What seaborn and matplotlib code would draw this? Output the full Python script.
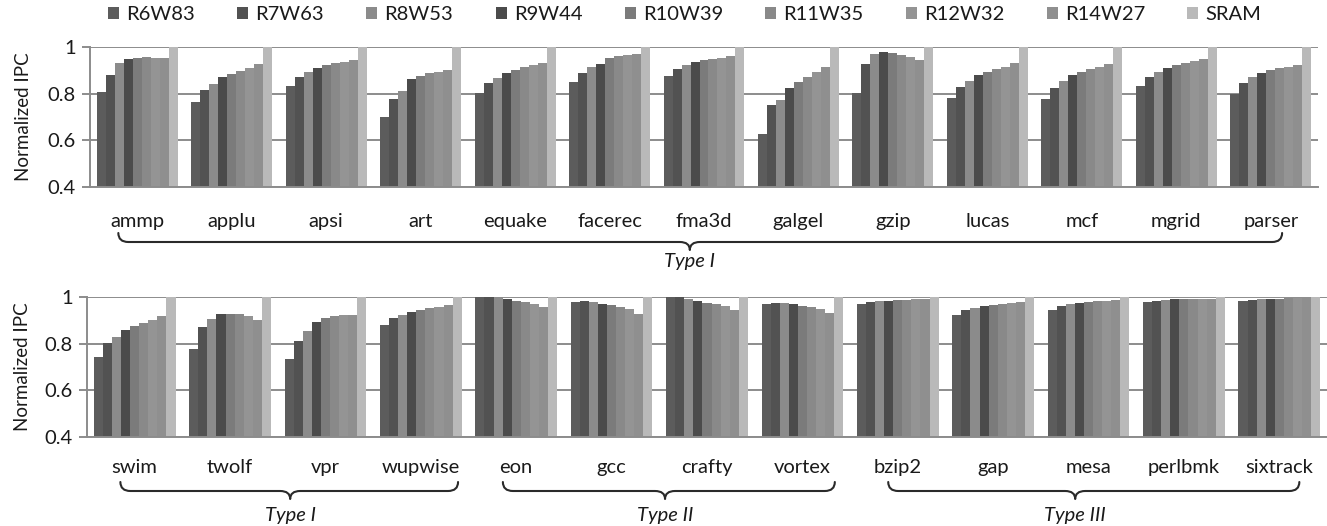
import numpy as np
import pandas as pd
import matplotlib
matplotlib.use("Agg")
import matplotlib.pyplot as plt
from matplotlib.path import Path
from matplotlib.patches import PathPatch, Patch
import seaborn as sns

# ---------------------------------------------------------------- data
TOP_BENCH = ["ammp", "applu", "apsi", "art", "equake", "facerec", "fma3d",
             "galgel", "gzip", "lucas", "mcf", "mgrid", "parser"]
BOTTOM_BENCH = ["swim", "twolf", "vpr", "wupwise", "eon", "gcc", "crafty",
                "vortex", "bzip2", "gap", "mesa", "perlbmk", "sixtrack"]

CONFIGS = ["R6W83", "R7W63", "R8W53", "R9W44", "R10W39",
           "R11W35", "R12W32", "R14W27", "SRAM"]

# normalized IPC, one list per configuration, benchmarks in TOP_BENCH order
top_r6w83 = [0.806, 0.765, 0.833, 0.698, 0.803, 0.848, 0.875, 0.628, 0.801, 0.780, 0.776, 0.831, 0.800]
top_r7w63 = [0.881, 0.815, 0.871, 0.777, 0.845, 0.889, 0.905, 0.750, 0.929, 0.828, 0.826, 0.871, 0.845]
top_r8w53 = [0.932, 0.843, 0.891, 0.813, 0.866, 0.915, 0.921, 0.771, 0.970, 0.855, 0.854, 0.891, 0.871]
top_r9w44 = [0.948, 0.870, 0.909, 0.861, 0.890, 0.929, 0.935, 0.824, 0.980, 0.879, 0.879, 0.909, 0.890]
top_r10w39 = [0.952, 0.884, 0.922, 0.877, 0.903, 0.952, 0.943, 0.851, 0.974, 0.894, 0.894, 0.922, 0.903]
top_r11w35 = [0.956, 0.897, 0.930, 0.890, 0.913, 0.962, 0.949, 0.872, 0.967, 0.906, 0.905, 0.930, 0.910]
top_r12w32 = [0.955, 0.909, 0.936, 0.891, 0.921, 0.966, 0.955, 0.894, 0.959, 0.916, 0.914, 0.939, 0.914]
top_r14w27 = [0.953, 0.926, 0.946, 0.901, 0.931, 0.969, 0.963, 0.916, 0.943, 0.931, 0.929, 0.950, 0.921]
top_sram = [1.0] * 13

# benchmarks in BOTTOM_BENCH order
bot_r6w83 = [0.744, 0.779, 0.734, 0.881, 1.000, 0.980, 1.000, 0.971, 0.970, 0.924, 0.946, 0.979, 0.983]
bot_r7w63 = [0.801, 0.871, 0.811, 0.910, 1.000, 0.983, 1.000, 0.976, 0.977, 0.943, 0.960, 0.984, 0.986]
bot_r8w53 = [0.830, 0.906, 0.854, 0.924, 0.999, 0.977, 0.991, 0.973, 0.981, 0.954, 0.969, 0.989, 0.990]
bot_r9w44 = [0.859, 0.926, 0.893, 0.937, 0.990, 0.971, 0.983, 0.969, 0.984, 0.963, 0.974, 0.990, 0.991]
bot_r10w39 = [0.876, 0.926, 0.910, 0.944, 0.984, 0.964, 0.976, 0.963, 0.987, 0.967, 0.979, 0.991, 0.993]
bot_r11w35 = [0.890, 0.926, 0.920, 0.953, 0.977, 0.959, 0.969, 0.956, 0.989, 0.970, 0.981, 0.991, 0.994]
bot_r12w32 = [0.901, 0.920, 0.924, 0.959, 0.969, 0.947, 0.960, 0.947, 0.990, 0.974, 0.983, 0.991, 0.996]
bot_r14w27 = [0.920, 0.903, 0.924, 0.964, 0.957, 0.929, 0.943, 0.930, 0.990, 0.979, 0.986, 0.991, 0.996]
bot_sram = [1.0] * 13

COLORS = ["#5c5c5c", "#525252", "#8b8b8b", "#4b4b4b", "#7b7b7b",
          "#898989", "#949494", "#8f8f8f", "#b9b9b9"]


def long_frame(bench, series):
    rows = []
    for cfg, vals in zip(CONFIGS, series):
        for b, v in zip(bench, vals):
            rows.append({"bench": b, "config": cfg, "ipc": v})
    return pd.DataFrame(rows)


df_top = long_frame(TOP_BENCH, [top_r6w83, top_r7w63, top_r8w53, top_r9w44, top_r10w39,
                                top_r11w35, top_r12w32, top_r14w27, top_sram])
df_bot = long_frame(BOTTOM_BENCH, [bot_r6w83, bot_r7w63, bot_r8w53, bot_r9w44, bot_r10w39,
                                   bot_r11w35, bot_r12w32, bot_r14w27, bot_sram])

# ---------------------------------------------------------------- style
sns.set_theme(style="white")
plt.rcParams["font.family"] = ["Lato", "DejaVu Sans"]
FS = 14.5
GRID = "#8c8c8c"
TEXT = "#1a1a1a"

W, H = 1327, 526
fig = plt.figure(figsize=(W / 100, H / 100), dpi=100)

ax_top = fig.add_axes([90 / W, 1 - 187 / H, 1228 / W, 140 / H])
ax_bot = fig.add_axes([87 / W, 1 - 437 / H, 1240 / W, 140 / H])


def draw_panel(ax, df, bench, label_pad, ylab_x):
    sns.barplot(data=df, x="bench", y="ipc", hue="config", order=bench,
                hue_order=CONFIGS, palette=COLORS, width=0.857, gap=0,
                saturation=1, errorbar=None, linewidth=0, legend=False, ax=ax)
    ax.set_xlim(-0.5, len(bench) - 0.5)
    ax.set_ylim(0.4, 1.0)
    ax.set_yticks([0.4, 0.6, 0.8, 1.0])
    ax.set_yticklabels(["0.4", "0.6", "0.8", "1"])
    ax.set_axisbelow(True)
    ax.yaxis.grid(True, color=GRID, linewidth=1.4)
    ax.xaxis.grid(False)
    for s in ("top", "right"):
        ax.spines[s].set_visible(False)
    for s in ("left", "bottom"):
        ax.spines[s].set_color(GRID)
        ax.spines[s].set_linewidth(1.4)
    ax.tick_params(axis="y", direction="out", length=6, width=1.4, color=GRID,
                   labelsize=FS, labelcolor=TEXT, pad=4, left=True)
    ax.tick_params(axis="x", length=0, labelsize=FS, labelcolor=TEXT, pad=label_pad)
    ax.set_xlabel("")
    ax.set_ylabel("Normalized IPC", fontsize=FS - 1, color=TEXT)
    ax.yaxis.set_label_coords(ylab_x, 0.5)


draw_panel(ax_top, df_top, TOP_BENCH, 19, -0.0475)
draw_panel(ax_bot, df_bot, BOTTOM_BENCH, 16, -0.045)

# ---------------------------------------------------------------- legend
handles = [Patch(facecolor=c, edgecolor="none", label=n) for c, n in zip(COLORS, CONFIGS)]
fig.legend(handles=handles, loc="center", bbox_to_anchor=(0.516, 1 - 15 / H),
           ncol=9, frameon=False, fontsize=FS, handlelength=0.55, handleheight=0.55,
           handletextpad=0.35, columnspacing=2.1, labelcolor=TEXT)

# ---------------------------------------------------------------- braces
overlay = fig.add_axes([0, 0, 1, 1], facecolor="none")
overlay.set_xlim(0, W)
overlay.set_ylim(0, H)
overlay.axis("off")


def to_px(ax, xdata):
    disp = ax.transData.transform((xdata, 0.7))
    return disp[0] * W / fig.bbox.width


def brace(x0, x1, xc, y, hook=9, tip=8, r=10):
    verts = [(x0, y + hook), (x0, y), (x0 + r, y),
             (xc - r, y),
             (xc, y), (xc, y - tip),
             (xc, y), (xc + r, y),
             (x1 - r, y),
             (x1, y), (x1, y + hook)]
    codes = [Path.MOVETO, Path.CURVE3, Path.CURVE3,
             Path.LINETO,
             Path.CURVE3, Path.CURVE3,
             Path.CURVE3, Path.CURVE3,
             Path.LINETO,
             Path.CURVE3, Path.CURVE3]
    overlay.add_patch(PathPatch(Path(verts, codes), facecolor="none",
                                edgecolor="#2a2a2a", linewidth=1.5,
                                capstyle="round", joinstyle="round"))


def group_brace(ax, start, end, center, y_line, y_text, text):
    x0, x1, xc = to_px(ax, start), to_px(ax, end), to_px(ax, center)
    brace(x0, x1, xc, H - y_line)
    overlay.text(xc, H - y_text, text, ha="center", va="center",
                 fontsize=FS, style="italic", color=TEXT)


group_brace(ax_top, -0.2, 12.12, 5.85, 242, 261, "Type I")
group_brace(ax_bot, -0.15, 3.39, 1.63, 491, 515, "Type I")
group_brace(ax_bot, 3.86, 7.34, 5.56, 491, 515, "Type II")
group_brace(ax_bot, 7.90, 12.21, 9.86, 491, 515, "Type III")

fig.savefig("out.png", dpi=100)
